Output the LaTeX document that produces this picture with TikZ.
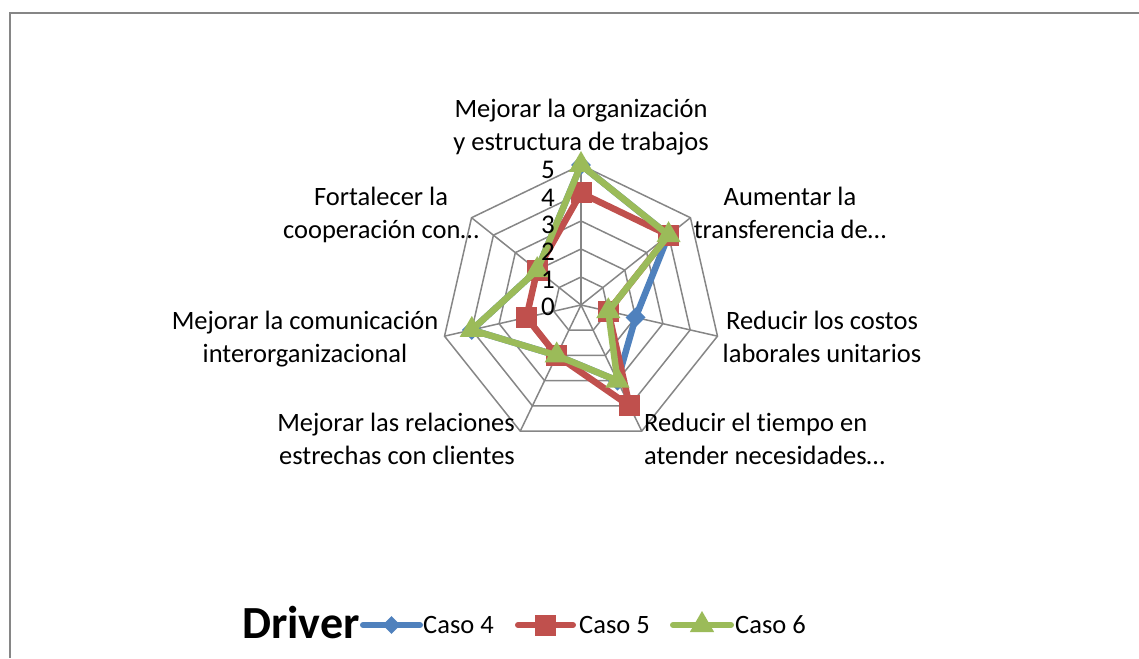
\documentclass[tikz,border=0pt]{standalone}
\usepackage{fontspec}
\setmainfont{Carlito}[Ligatures=NoCommon]
\usepackage{xcolor}
\usetikzlibrary{shapes.geometric}
\definecolor{caseblue}{HTML}{4F81BD}
\definecolor{casered}{HTML}{C0504D}
\definecolor{casegreen}{HTML}{9BBB59}
\definecolor{gridgray}{HTML}{868686}

\begin{document}
\begin{tikzpicture}[x=1pt,y=1pt,
  grid/.style={draw=gridgray, line width=1.5pt},
  series/.style={line width=6.5pt, line join=round},
  keyline/.style={line width=6pt, line cap=round},
  lbl/.style={font=\fontsize{26.5}{33}\selectfont, inner sep=0pt, align=center},
  tick/.style={font=\fontsize{27}{33}\selectfont, inner sep=0pt, anchor=east},
  dmark/.style={diamond, fill=caseblue, inner sep=0pt, minimum size=20pt},
  smark/.style={rectangle, fill=casered, inner sep=0pt, minimum size=21pt},
  tmark/.style={regular polygon, regular polygon sides=3, fill=casegreen,
    inner sep=0pt, minimum size=28pt}
]
\useasboundingbox (-581,-353) rectangle (558,305);
\draw[draw=gridgray, line width=2pt] (558,292) -- (-571,292) -- (-571,-353);

\foreach \r in {1,...,5}
  \draw[grid] (90:28*\r) \foreach \k in {1,...,6} { -- ({90-\k*360/7}:28*\r) } -- cycle;
\foreach \k in {0,...,6}
  \draw[grid] (0,0) -- ({90-\k*360/7}:140);

\node[lbl, anchor=base] (l0) at (0,154) {Mejorar la organización\\y estructura de trabajos};
\node[lbl, anchor=base] (l1) at (209,66) {Aumentar la\\transferencia de…};
\node[lbl, anchor=base] (l2) at (241,-57) {Reducir los costos\\laborales unitarios};
\node[lbl, anchor=base west, align=left] (l3) at (63,-159) {Reducir el tiempo en\\atender necesidades…};
\node[lbl, anchor=base east, align=right] (l4) at (-66,-159) {Mejorar las relaciones\\estrechas con clientes};
\node[lbl, anchor=base] (l5) at (-276,-57) {Mejorar la comunicación\\interorganizacional};
\node[lbl, anchor=base] (l6) at (-200,66) {Fortalecer la\\cooperación con…};

\foreach \v [count=\k from 0] in {5,4,2,3,2,4,2}
  \coordinate (b\k) at ({90-\k*360/7}:28*\v);
\foreach \v [count=\k from 0] in {4,4,1,4,2,2,2}
  \coordinate (r\k) at ({90-\k*360/7}:28*\v);
\foreach \v [count=\k from 0] in {5,4,1,3,2,4,2}
  \coordinate (g\k) at ({90-\k*360/7}:28*\v);

\draw[series, caseblue] (b0) -- (b1) -- (b2) -- (b3) -- (b4) -- (b5) -- (b6) -- cycle;
\foreach \k in {0,...,6}
  \node[dmark] (bm\k) at (b\k) {};
\draw[series, casered] (r0) -- (r1) -- (r2) -- (r3) -- (r4) -- (r5) -- (r6) -- cycle;
\foreach \k in {0,...,6}
  \node[smark] (rm\k) at (r\k) {};
\draw[series, casegreen] (g0) -- (g1) -- (g2) -- (g3) -- (g4) -- (g5) -- (g6) -- cycle;
\foreach \k in {0,...,6}
  \node[tmark] (gm\k) at (g\k) {};

\foreach \v in {0,...,5}
  \node[tick] (t\v) at (-26,27.4*\v-2) {\v};

\node[font=\fontsize{46}{50}\selectfont\bfseries, inner sep=0pt, anchor=base west] (drv) at (-339,-333) {Driver};
\coordinate (kb1) at (-218,-320);
\coordinate (kb2) at (-161,-320);
\coordinate (kr1) at (-63,-320);
\coordinate (kr2) at (-8,-320);
\coordinate (kg1) at (92,-320);
\coordinate (kg2) at (150,-320);
\draw[keyline, caseblue] (kb1) -- (kb2) node[midway, dmark] (kbm) {};
\draw[keyline, casered] (kr1) -- (kr2) node[midway, smark] (krm) {};
\draw[keyline, casegreen] (kg1) -- (kg2) node[midway, tmark] (kgm) {};
\node[lbl, anchor=west] (c4) at (-158,-320) {Caso 4};
\node[lbl, anchor=west] (c5) at (-2,-320) {Caso 5};
\node[lbl, anchor=west] (c6) at (154,-320) {Caso 6};
\end{tikzpicture}
\end{document}
